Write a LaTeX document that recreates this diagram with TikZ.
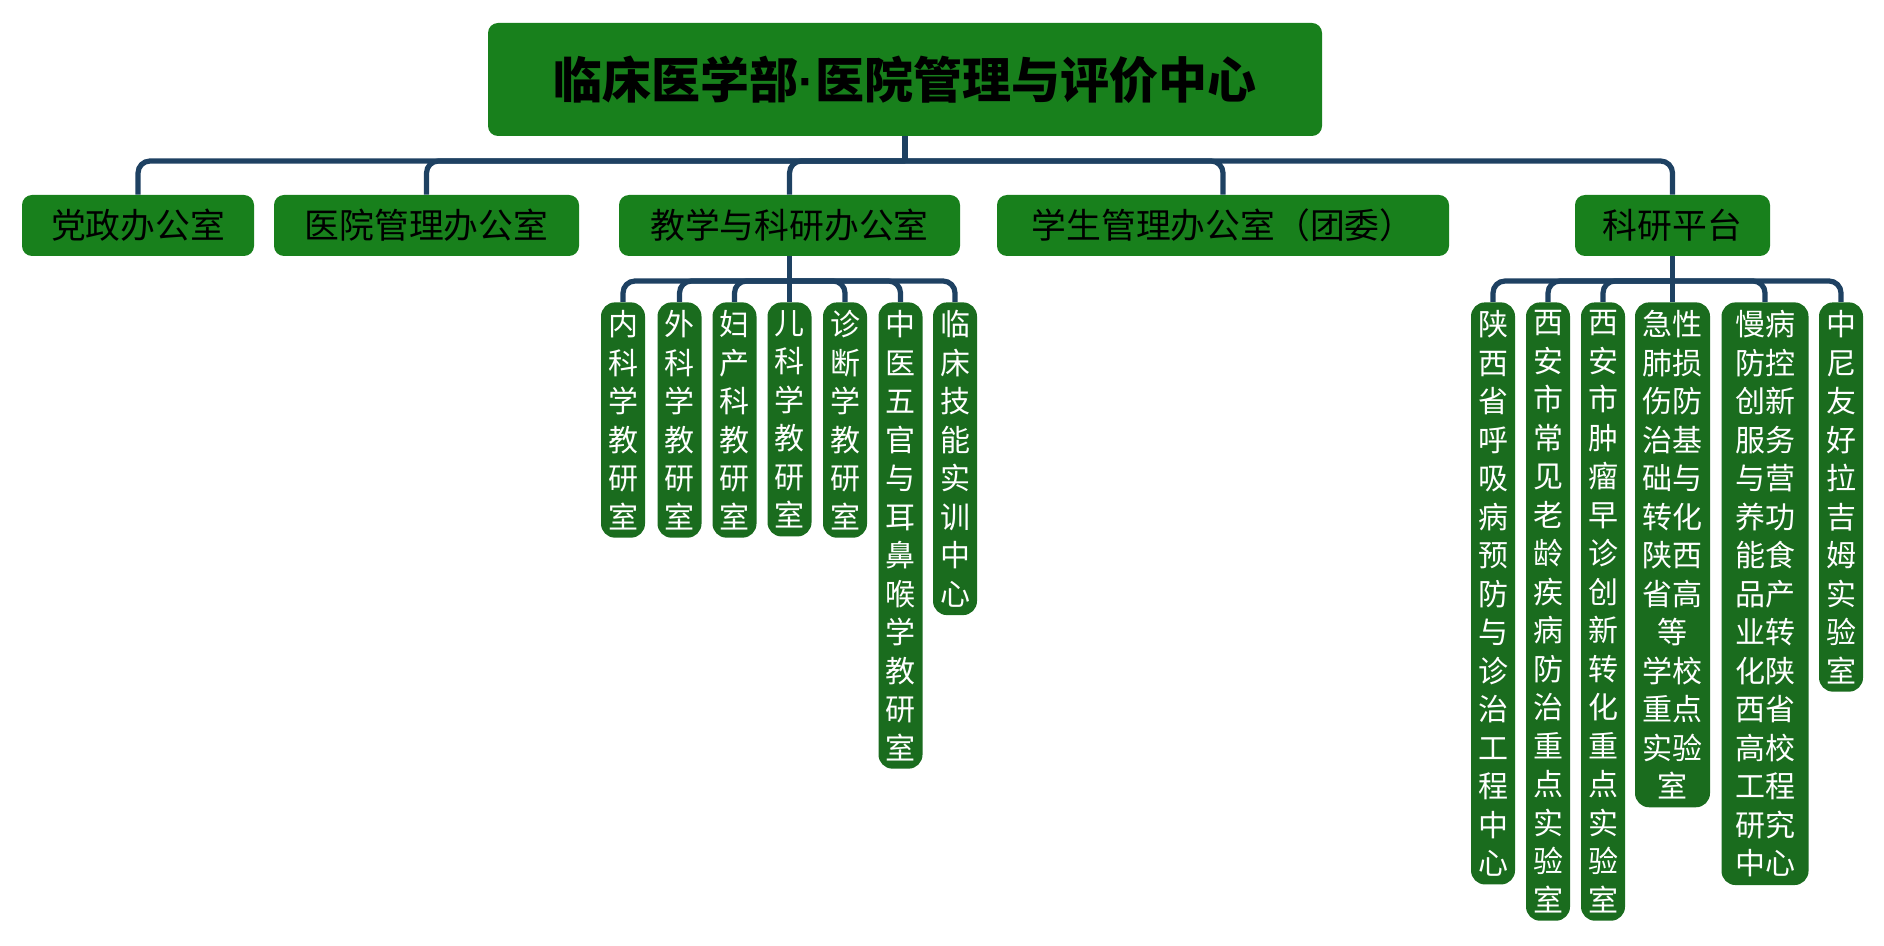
\documentclass[tikz,border=0pt]{standalone}
\usepackage{fontspec}
\newfontfamily\cjk{Noto Sans CJK SC}
\newfontfamily\lat{Liberation Sans}
\usetikzlibrary{positioning}

\definecolor{boxgreen}{RGB}{24,128,28}
\definecolor{subgreen}{RGB}{26,108,30}
\definecolor{linkblue}{RGB}{30,65,98}

\begin{document}
\begin{tikzpicture}[
  x=0.5pt, y=-0.5pt,
  box/.style={rounded corners=5pt, fill=boxgreen, draw=none, inner sep=0pt, align=center},
  head/.style={box, minimum width=417pt, minimum height=56.5pt,
               font=\cjk\bfseries\fontsize{24.5}{28}\selectfont},
  dept/.style={box, minimum height=30.5pt, font=\cjk\fontsize{17.4}{20}\selectfont},
  col/.style={rounded corners=7pt, fill=subgreen, text=white, anchor=north, align=center,
              inner xsep=0pt, inner ysep=4pt, text width=22pt,
              font=\cjk\fontsize{15}{19.25}\selectfont},
  widecol/.style={col, text width=#1},
  link/.style={draw=linkblue, line width=2.6pt, rounded corners=6pt},
]
\useasboundingbox (0,0) rectangle (1884,946);

% ---- top: the centre ----
\node[head] (root) at (905,79.5) {临床医学部{\lat\bfseries ·}医院管理与评价中心};

% ---- offices ----
\node[dept, minimum width=116pt]   (party) at (138,225.5)    {党政办公室};
\node[dept, minimum width=152.5pt] (hosp)  at (426.5,225.5)  {医院管理办公室};
\node[dept, minimum width=170.5pt] (teach) at (789.5,225.5)  {教学与科研办公室};
\node[dept, minimum width=226pt]   (stud)  at (1223,225.5)   {学生管理办公室（团委）};
\node[dept, minimum width=97.5pt]  (plat)  at (1672.5,225.5) {科研平台};

% ---- teaching and research sections ----
\node[col] (t1) at (623,302)    {内\\科\\学\\教\\研\\室};
\node[col] (t2) at (679.5,302)  {外\\科\\学\\教\\研\\室};
\node[col] (t3) at (734.5,302)  {妇\\产\\科\\教\\研\\室};
\node[col] (t4) at (789.5,302)  {儿\\科\\学\\教\\研\\室};
\node[col] (t5) at (845,302)    {诊\\断\\学\\教\\研\\室};
\node[col] (t6) at (900.5,302)  {中\\医\\五\\官\\与\\耳\\鼻\\喉\\学\\教\\研\\室};
\node[col] (t7) at (955,302)    {临\\床\\技\\能\\实\\训\\中\\心};

% ---- research platforms ----
\node[col] (p1) at (1493,302)
  {陕\\西\\省\\呼\\吸\\病\\预\\防\\与\\诊\\治\\工\\程\\中\\心};
\node[col] (p2) at (1548,302)
  {西\\安\\市\\常\\见\\老\\龄\\疾\\病\\防\\治\\重\\点\\实\\验\\室};
\node[col] (p3) at (1603,302)
  {西\\安\\市\\肿\\瘤\\早\\诊\\创\\新\\转\\化\\重\\点\\实\\验\\室};
\node[widecol=37.5pt] (p4) at (1672.5,302)
  {急性\\肺损\\伤防\\治基\\础与\\转化\\陕西\\省高\\等\\学校\\重点\\实验\\室};
\node[widecol=43.5pt] (p5) at (1765,302)
  {慢病\\防控\\创新\\服务\\与营\\养功\\能食\\品产\\业转\\化陕\\西省\\高校\\工程\\研究\\中心};
\node[col] (p6) at (1841,302) {中\\尼\\友\\好\\拉\\吉\\姆\\实\\验\\室};

% ---- junctions of the buses ----
\coordinate (rootj)  at (905,161);
\coordinate (teachj) at (789.5,281);
\coordinate (platj)  at (1672.5,281);

% ---- centre to offices ----
\draw[link] (root.south) -- (rootj);
\draw[link] (rootj) -| (party.north);
\draw[link] (rootj) -| (hosp.north);
\draw[link] (rootj) -| (teach.north);
\draw[link] (rootj) -| (stud.north);
\draw[link] (rootj) -| (plat.north);

% ---- office to sections ----
\draw[link] (teach.south) -- (teachj);
\draw[link] (teachj) -| (t1.north);
\draw[link] (teachj) -| (t2.north);
\draw[link] (teachj) -| (t3.north);
\draw[link] (teachj) -- (t4.north);
\draw[link] (teachj) -| (t5.north);
\draw[link] (teachj) -| (t6.north);
\draw[link] (teachj) -| (t7.north);

% ---- platform to labs ----
\draw[link] (plat.south) -- (platj);
\draw[link] (platj) -| (p1.north);
\draw[link] (platj) -| (p2.north);
\draw[link] (platj) -| (p3.north);
\draw[link] (platj) -- (p4.north);
\draw[link] (platj) -| (p5.north);
\draw[link] (platj) -| (p6.north);
\end{tikzpicture}
\end{document}
